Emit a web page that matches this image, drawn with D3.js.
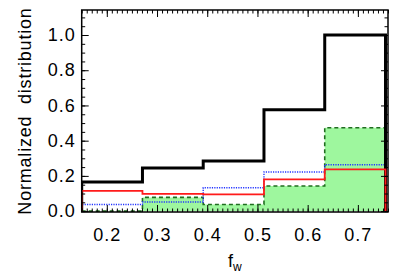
<!DOCTYPE html>
<html><head><meta charset="utf-8">
<script src="https://cdn.jsdelivr.net/npm/d3@7"></script>
<style>body{margin:0;background:#fff}svg{display:block}</style>
</head><body><svg id="c" width="409" height="273"></svg>
<script>
// ---- data ----
const binEdges    = [0.15, 0.271, 0.392, 0.513, 0.634, 0.755];
const allValues   = [0.166, 0.245, 0.285, 0.575, 1.0];
const redValues   = [0.115, 0.098, 0.095, 0.180, 0.237];
const blueValues  = [0.038, 0.052, 0.133, 0.222, 0.263];
const greenValues = [0.0, 0.078, 0.038, 0.143, 0.473];
const xTicks = [0.2, 0.3, 0.4, 0.5, 0.6, 0.7];
const yTicks = [0.0, 0.2, 0.4, 0.6, 0.8, 1.0];
const xLabel = "f";
const xLabelSub = "w";
const yLabel = "Normalized  distribution";

// ---- layout ----
const L = 81.7, R = 388, T = 10, B = 212;
const svg = d3.select("#c");
const x = d3.scaleLinear().domain([0.15, 0.76]).range([L, R]);
const y = d3.scaleLinear().domain([-0.005, 1.142]).range([B, T]);
const font = "'Liberation Sans', Arial, Helvetica, sans-serif";

svg.append("defs").append("clipPath").attr("id", "clip")
  .append("rect").attr("x", L).attr("y", T).attr("width", R - L).attr("height", B - T);

function stepPts(vals) {
  const pts = [[binEdges[0], 0]];
  vals.forEach((v, i) => { pts.push([binEdges[i], v]); pts.push([binEdges[i + 1], v]); });
  pts.push([binEdges[binEdges.length - 1], 0]);
  return pts;
}
const line = d3.line().x(d => x(d[0])).y(d => y(d[1]));
const g = svg.append("g").attr("clip-path", "url(#clip)");

// green filled
g.append("path").attr("d", line(stepPts(greenValues)) + "Z")
  .attr("fill", "#9ef79e").attr("stroke", "none");
g.append("path").attr("d", line(stepPts(greenValues)))
  .attr("fill", "none").attr("stroke", "#1f6e1f").attr("stroke-width", 1.6)
  .attr("stroke-dasharray", "4,3");
// blue dotted
g.append("path").attr("d", line(stepPts(blueValues)))
  .attr("fill", "none").attr("stroke", "#2233ff").attr("stroke-width", 1.4)
  .attr("stroke-dasharray", "1.2,1.2");
// black thick
g.append("path").attr("d", line(stepPts(allValues)))
  .attr("fill", "none").attr("stroke", "#000").attr("stroke-width", 3);
// red
g.append("path").attr("d", line(stepPts(redValues)))
  .attr("fill", "none").attr("stroke", "#ff1a1a").attr("stroke-width", 1.8);

// ---- axes ----
const xMinor = d3.range(15, 77).map(d => d / 100);
const yMinor = d3.range(0, 23).map(d => d * 0.05);
function styleAx(sel) {
  sel.select(".domain").remove();
  sel.selectAll("line").attr("stroke", "#000").attr("stroke-width", 1);
  sel.selectAll("text").attr("font-family", font).attr("font-size", 18)
    .attr("letter-spacing", 1).attr("fill", "#000");
}
// bottom
svg.append("g").attr("transform", `translate(0,${B})`)
  .call(d3.axisBottom(x).tickValues(xMinor).tickSize(-3.5).tickFormat("")).call(styleAx);
svg.append("g").attr("transform", `translate(0,${B})`)
  .call(d3.axisBottom(x).tickValues(xTicks).tickSize(-7).tickPadding(16).tickFormat(d3.format(".1f"))).call(styleAx);
// top
svg.append("g").attr("transform", `translate(0,${T})`)
  .call(d3.axisTop(x).tickValues(xMinor).tickSize(-3.5).tickFormat("")).call(styleAx);
svg.append("g").attr("transform", `translate(0,${T})`)
  .call(d3.axisTop(x).tickValues(xTicks).tickSize(-7).tickFormat("")).call(styleAx);
// left
svg.append("g").attr("transform", `translate(${L},0)`)
  .call(d3.axisLeft(y).tickValues(yMinor).tickSize(-3.5).tickFormat("")).call(styleAx);
svg.append("g").attr("transform", `translate(${L},0)`)
  .call(d3.axisLeft(y).tickValues(yTicks).tickSize(-7).tickPadding(6).tickFormat(d3.format(".1f"))).call(styleAx);
// right
svg.append("g").attr("transform", `translate(${R},0)`)
  .call(d3.axisRight(y).tickValues(yMinor).tickSize(-3.5).tickFormat("")).call(styleAx);
svg.append("g").attr("transform", `translate(${R},0)`)
  .call(d3.axisRight(y).tickValues(yTicks).tickSize(-7).tickFormat("")).call(styleAx);

// frame
svg.append("rect").attr("x", L).attr("y", T).attr("width", R - L).attr("height", B - T)
  .attr("fill", "none").attr("stroke", "#000").attr("stroke-width", 1.5);

// titles
const xt = svg.append("text").attr("x", (L + R) / 2).attr("y", 267)
  .attr("text-anchor", "middle").attr("font-family", font).attr("font-size", 18);
xt.append("tspan").text(xLabel);
xt.append("tspan").attr("dy", 4).attr("font-size", 12).text(xLabelSub);

svg.append("text").attr("transform", `translate(31,${(T + B) / 2}) rotate(-90)`)
  .attr("text-anchor", "middle").attr("font-family", font).attr("font-size", 18)
  .attr("letter-spacing", 0.8).style("white-space", "pre").text(yLabel);
</script></body></html>
